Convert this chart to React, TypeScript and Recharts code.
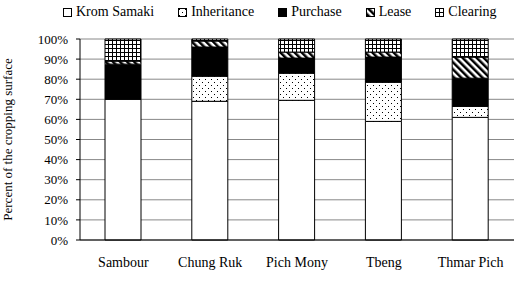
import React from 'react';
import { BarChart, Bar, XAxis, YAxis, CartesianGrid, Legend, ReferenceLine } from 'recharts';

const categories = ['Sambour', 'Chung Ruk', 'Pich Mony', 'Tbeng', 'Thmar Pich'];
const kromSamaki = [70, 69, 69.5, 59, 61];
const inheritance = [0, 12.5, 13.5, 19.5, 5.5];
const purchase = [17.5, 14.5, 7.5, 12.5, 14];
const lease = [1.5, 3, 3, 2.5, 10.5];
const clearing = [11, 1, 6.5, 6.5, 9];
const yTicks = [0, 10, 20, 30, 40, 50, 60, 70, 80, 90, 100];
const boundaryTicks = [0, 1, 2, 3, 4, 5];

const seriesNames = ['Krom Samaki', 'Inheritance', 'Purchase', 'Lease', 'Clearing'];
const seriesKeys = ['krom', 'inh', 'pur', 'lease', 'clear'];
const seriesFills = ['#ffffff', 'url(#patDots)', '#000000', 'url(#patStripes)', 'url(#patGrid)'];

const data = categories.map((name, i) => ({
  name,
  krom: kromSamaki[i],
  inh: inheritance[i],
  pur: purchase[i],
  lease: lease[i],
  clear: clearing[i],
}));

const FONT = '"Liberation Serif", "Times New Roman", serif';

const LegendContent = () => (
  <div style={{ display: 'flex', alignItems: 'center', paddingLeft: 63, fontFamily: FONT, fontSize: 14, color: '#000', whiteSpace: 'nowrap' }}>
    {seriesNames.map((n, i) => (
      <div key={n} style={{ display: 'flex', alignItems: 'center', marginRight: 24 }}>
        <svg width={9} height={9} style={{ marginRight: 4, display: 'block' }}>
          <rect x={0.5} y={0.5} width={8} height={8} fill={seriesFills[i]} stroke="#000" strokeWidth={1} />
        </svg>
        <span>{n}</span>
      </div>
    ))}
  </div>
);

const YLabel = (props: any) => {
  const vb = props.viewBox || { x: 0, y: 39, width: 80, height: 201 };
  const x = vb.x + 12;
  const y = vb.y + vb.height / 2;
  return (
    <text x={x} y={y} transform={`rotate(-90, ${x}, ${y})`} textAnchor="middle" fontFamily={FONT} fontSize={13} fill="#000">
      Percent of the cropping surface
    </text>
  );
};

export default function App() {
  return (
    <div style={{ position: 'absolute', left: 0, top: 0, width: 527, height: 286, background: '#fff' }}>
      <BarChart width={527} height={286} data={data} margin={{ top: 39, right: 13, bottom: 0, left: 0 }} barSize={36}>
        <defs>
          <pattern id="patDots" width={6} height={6} patternUnits="userSpaceOnUse">
            <rect width={6} height={6} fill="#fff" />
            <rect x={1} y={1} width={1} height={1} fill="#000" />
            <rect x={4} y={4} width={1} height={1} fill="#000" />
          </pattern>
          <pattern id="patStripes" width={5} height={5} patternUnits="userSpaceOnUse" patternTransform="rotate(-45)">
            <rect width={5} height={5} fill="#fff" />
            <rect x={0} y={0} width={2.5} height={5} fill="#000" />
          </pattern>
          <pattern id="patGrid" width={4} height={4} patternUnits="userSpaceOnUse">
            <rect width={4} height={4} fill="#fff" />
            <rect x={0} y={0} width={4} height={1} fill="#000" />
            <rect x={0} y={0} width={1} height={4} fill="#000" />
          </pattern>
        </defs>
        <CartesianGrid vertical={false} stroke="#888" />
        <XAxis
          xAxisId="bnd"
          type="number"
          domain={[0, 5]}
          ticks={boundaryTicks}
          tick={false}
          tickSize={4}
          tickLine={{ stroke: '#000' }}
          axisLine={false}
          height={0}
        />
        <XAxis
          xAxisId="cat"
          dataKey="name"
          tickLine={false}
          axisLine={{ stroke: '#000' }}
          tick={{ fontFamily: FONT, fontSize: 14, fill: '#000' }}
          tickMargin={11}
          height={46}
          interval={0}
        />
        <YAxis
          domain={[0, 100]}
          ticks={yTicks}
          tickFormatter={(v: number) => `${v}%`}
          width={80}
          tickSize={4}
          tickMargin={8}
          axisLine={{ stroke: '#000' }}
          tickLine={{ stroke: '#000' }}
          tick={{ fontFamily: FONT, fontSize: 13, fill: '#000' }}
          interval={0}
          label={<YLabel />}
        />
        <ReferenceLine xAxisId="bnd" x={5} stroke="#888" />
        <Legend verticalAlign="middle" align="center" wrapperStyle={{ top: 4, left: 0, width: 527 }} content={<LegendContent />} />
        {seriesKeys.map((k, i) => (
          <Bar key={k} xAxisId="cat" dataKey={k} name={seriesNames[i]} stackId="a" fill={seriesFills[i]} stroke="#000" strokeWidth={1} isAnimationActive={false} />
        ))}
      </BarChart>
    </div>
  );
}
